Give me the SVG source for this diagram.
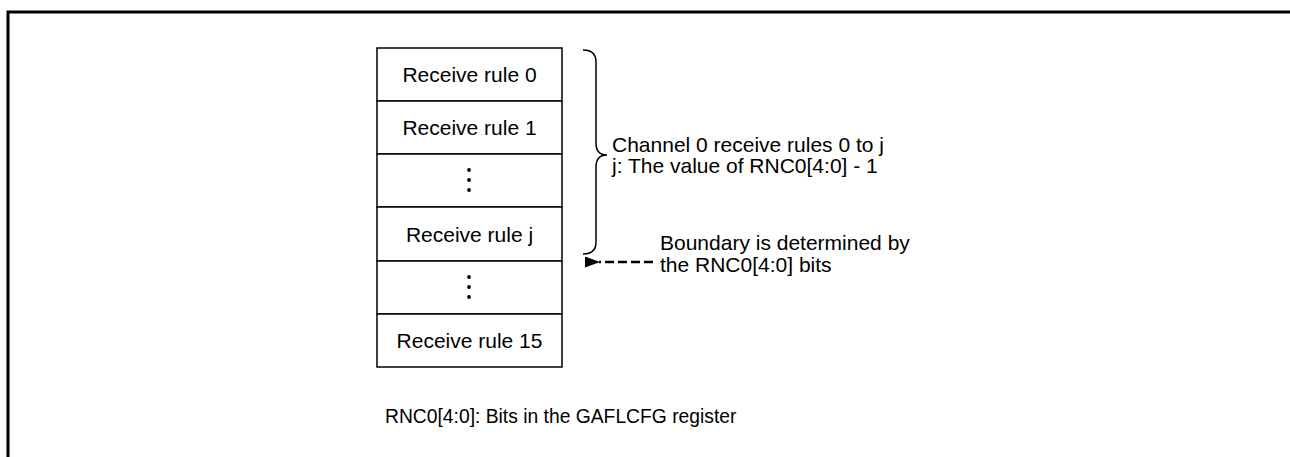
<svg xmlns="http://www.w3.org/2000/svg" width="1290" height="457" viewBox="0 0 1290 457">
<style>
.t{font-family:"Liberation Sans",Arial,sans-serif;font-size:21px;fill:#000}
.c{text-anchor:middle}
.n{font-size:19.3px}
.cell{fill:#fff;stroke:#000;stroke-width:1.5}
.dot{fill:#000}
</style>
<defs>
<marker id="ah" markerWidth="15" markerHeight="11" refX="1" refY="5.5" orient="auto" markerUnits="userSpaceOnUse">
<path d="M15,0 L0,5.5 L15,11 z" fill="#000"/>
</marker>
</defs>
<rect width="1290" height="457" fill="#fff"/>
<g id="frame">
<path d="M8,457 V12 H1290" fill="none" stroke="#000" stroke-width="3"/>
</g>
<g id="rule0"><rect class="cell" x="377" y="48" width="185" height="53"/><text class="t c" x="469.5" y="81.5">Receive rule 0</text></g>
<g id="rule1"><rect class="cell" x="377" y="101" width="185" height="53"/><text class="t c" x="469.5" y="134.5">Receive rule 1</text></g>
<g id="dots1"><rect class="cell" x="377" y="154" width="185" height="53"/><circle class="dot" cx="469" cy="170" r="1.9"/><circle class="dot" cx="469" cy="180" r="1.9"/><circle class="dot" cx="469" cy="190" r="1.9"/></g>
<g id="rulej"><rect class="cell" x="377" y="207" width="185" height="54"/><text class="t c" x="469.5" y="241.5">Receive rule j</text></g>
<g id="dots2"><rect class="cell" x="377" y="261" width="185" height="53"/><circle class="dot" cx="469" cy="277" r="1.9"/><circle class="dot" cx="469" cy="287" r="1.9"/><circle class="dot" cx="469" cy="297" r="1.9"/></g>
<g id="rule15"><rect class="cell" x="377" y="314" width="185" height="53"/><text class="t c" x="469.5" y="347.5">Receive rule 15</text></g>
<g id="brace">
<path d="M583,50 Q596,50 596,62 L596,143 Q596,155 607,155 Q596,155 596,167 L596,242 Q596,254 583,254" fill="none" stroke="#000" stroke-width="1.5"/>
</g>
<g id="brace-label">
<text class="t" x="612" y="152">Channel 0 receive rules 0 to j</text>
<text class="t" x="612" y="173">j: The value of RNC0[4:0] - 1</text>
</g>
<g id="connectors">
<line x1="653" y1="262" x2="599" y2="262" stroke="#000" stroke-width="2.5" stroke-dasharray="9,4" marker-end="url(#ah)"/>
</g>
<g id="boundary-label">
<text class="t" x="660" y="250">Boundary is determined by</text>
<text class="t" x="660" y="272">the RNC0[4:0] bits</text>
</g>
<g id="note">
<text class="t n" x="385" y="423">RNC0[4:0]: Bits in the GAFLCFG register</text>
</g>
</svg>
